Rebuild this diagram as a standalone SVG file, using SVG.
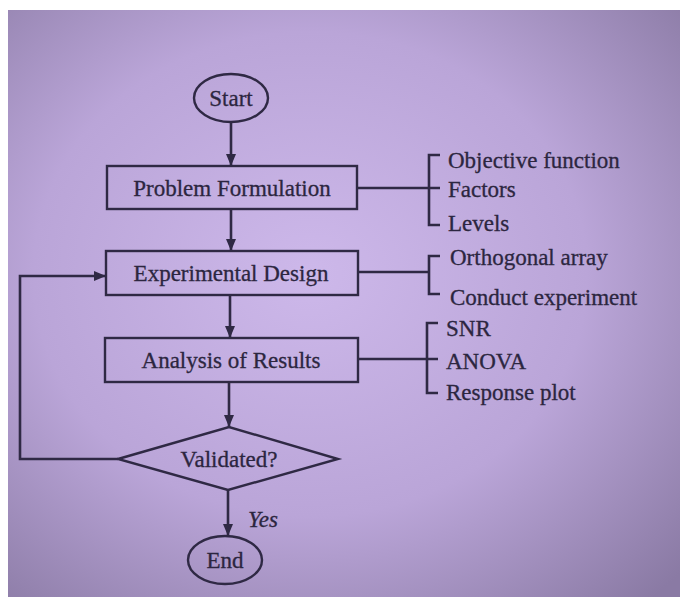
<svg xmlns="http://www.w3.org/2000/svg" width="686" height="603" viewBox="0 0 686 603">
<defs>
<radialGradient id="bg" cx="0.45" cy="0.45" r="0.75">
<stop offset="0" stop-color="#cdb8ea"/>
<stop offset="0.55" stop-color="#baa5d8"/>
<stop offset="1" stop-color="#8a7aa4"/>
</radialGradient>
<marker id="ah" viewBox="0 0 12 10" refX="12" refY="5" markerWidth="12" markerHeight="10" markerUnits="userSpaceOnUse" orient="auto">
<path d="M0,0 L12,5 L0,10 z" fill="#2f2944"/>
</marker>
<style>
.ln{fill:none;stroke:#2f2944;stroke-width:2.6}
.sh{fill:none;stroke:#2f2944;stroke-width:2.4}
.tx{font-family:"Liberation Serif","Times New Roman",serif;font-size:23px;fill:#2c2640;stroke:#2c2640;stroke-width:0.3}
.c{text-anchor:middle}
</style>
</defs>
<rect x="0" y="0" width="686" height="603" fill="#ffffff"/>
<rect x="8" y="10" width="672" height="587" fill="url(#bg)"/>

<g id="start">
<ellipse class="sh" cx="231" cy="98" rx="37" ry="24"/>
<text class="tx c" x="231" y="106">Start</text>
</g>
<g id="problem">
<rect class="sh" x="107" y="166" width="250" height="43"/>
<text class="tx c" x="232" y="196">Problem Formulation</text>
</g>
<g id="design">
<rect class="sh" x="106" y="251" width="252" height="44"/>
<text class="tx c" x="231" y="281">Experimental Design</text>
</g>
<g id="analysis">
<rect class="sh" x="105" y="338" width="253" height="44"/>
<text class="tx c" x="231" y="368">Analysis of Results</text>
</g>
<g id="validated">
<polygon class="sh" points="118,459 229,427 338,459 228,490"/>
<text class="tx c" x="229" y="467">Validated?</text>
</g>
<g id="end">
<ellipse class="sh" cx="225" cy="560" rx="37" ry="24"/>
<text class="tx c" x="225" y="568">End</text>
</g>
<g id="list1">
<path class="ln" d="M440,155 H429 V225 H440 M429,188 H440"/>
<text class="tx" x="448" y="168">Objective function</text>
<text class="tx" x="448" y="197">Factors</text>
<text class="tx" x="448" y="231">Levels</text>
</g>
<g id="list2">
<path class="ln" d="M440,256 H429 V294 H440"/>
<text class="tx" x="450" y="265">Orthogonal array</text>
<text class="tx" x="450" y="305">Conduct experiment</text>
</g>
<g id="list3">
<path class="ln" d="M438,323 H427 V393 H438 M427,359 H438"/>
<text class="tx" x="446" y="336">SNR</text>
<text class="tx" x="446" y="369">ANOVA</text>
<text class="tx" x="446" y="400">Response plot</text>
</g>
<g id="connectors">
<line class="ln" x1="231" y1="122" x2="231" y2="166" marker-end="url(#ah)"/>
<line class="ln" x1="231" y1="209" x2="231" y2="251" marker-end="url(#ah)"/>
<line class="ln" x1="230" y1="295" x2="230" y2="338" marker-end="url(#ah)"/>
<line class="ln" x1="229" y1="382" x2="229" y2="427" marker-end="url(#ah)"/>
<line class="ln" x1="228" y1="490" x2="228" y2="536" marker-end="url(#ah)"/>
<polyline class="ln" points="118,459 20,459 20,276 106,276" marker-end="url(#ah)"/>
<line class="ln" x1="357" y1="188" x2="429" y2="188"/>
<line class="ln" x1="358" y1="272" x2="429" y2="272"/>
<line class="ln" x1="358" y1="359" x2="427" y2="359"/>
<text class="tx" x="248" y="527" font-style="italic" font-size="21">Yes</text>
</g>
</svg>
